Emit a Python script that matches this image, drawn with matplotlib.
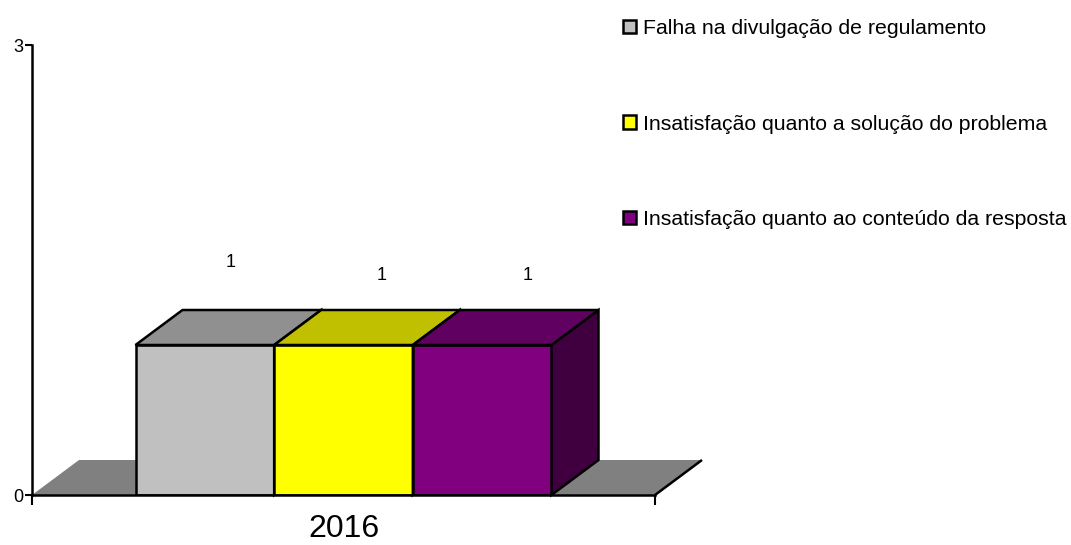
import matplotlib
matplotlib.use("Agg")
import matplotlib.pyplot as plt
from matplotlib.patches import Polygon, Patch

categories = ["2016"]
series_names = ["Falha na divulgação de regulamento",
                "Insatisfação quanto a solução do problema",
                "Insatisfação quanto ao conteúdo da resposta"]
values = [1, 1, 1]
front_colors = ["#C0C0C0", "#FFFF00", "#800080"]
top_colors = ["#909090", "#C0C000", "#600060"]
side_colors = ["#909090", "#C0C000", "#400040"]
label_pos = [(-0.181, 1.553), (0.061, 1.46), (0.295, 1.46)]

plt.rcParams['font.family'] = ['Liberation Sans', 'DejaVu Sans']

W, H = 1071, 545
fig = plt.figure(figsize=(W / 100, H / 100), dpi=100)
ax = fig.add_axes([32 / W, (H - 495) / H, 623 / W, 450 / H])
ax.set_xlim(-0.5, 0.5)
ax.set_ylim(0, 3)

dx = 47 / 623
dy = 35 / 150
group_w = 416 / 623
bw = group_w / len(values)

# floor
floor = Polygon([(-0.5, 0), (0.5, 0), (0.5 + dx, dy), (-0.5 + dx, dy)],
                closed=True, facecolor="#808080", edgecolor="none",
                clip_on=False, zorder=1)
ax.add_patch(floor)
ax.plot([0.5, 0.5 + dx], [0, dy], color="black", lw=1.8, clip_on=False,
        zorder=1.5, solid_capstyle="butt")

x0 = -group_w / 2
for i, v in enumerate(values):
    left = x0 + i * bw
    right = left + bw
    ax.bar(left, v, width=bw, align="edge", color=front_colors[i],
           edgecolor="black", linewidth=1.8, zorder=2 + i)
    top = Polygon([(left, v), (right, v), (right + dx, v + dy), (left + dx, v + dy)],
                  closed=True, facecolor=top_colors[i], edgecolor="black",
                  linewidth=1.8, zorder=2 + i, clip_on=False)
    side = Polygon([(right, 0), (right + dx, dy), (right + dx, v + dy), (right, v)],
                   closed=True, facecolor=side_colors[i], edgecolor="black",
                   linewidth=1.8, zorder=2 + i, clip_on=False)
    ax.add_patch(side)
    ax.add_patch(top)
    ax.text(label_pos[i][0], label_pos[i][1], str(v), ha="center", va="center",
            fontsize=13, zorder=10)

for s in ["top", "right"]:
    ax.spines[s].set_visible(False)
for s in ["left", "bottom"]:
    ax.spines[s].set_linewidth(1.8)
    ax.spines[s].set_zorder(20)

ax.set_yticks([0, 3])
ax.set_yticklabels(["0", "3"], fontsize=13)
ax.tick_params(axis="y", direction="out", length=5, width=1.5, pad=1)
ax.set_xticks([-0.5, 0.5])
ax.set_xticklabels(["", ""])
ax.tick_params(axis="x", which="major", direction="out", length=7, width=1.5)
ax.set_xticks([0], minor=True)
ax.set_xticklabels(categories, minor=True, fontsize=23)
ax.tick_params(axis="x", which="minor", length=0, pad=14)

handles = [Patch(facecolor=c, edgecolor="black", linewidth=1.8) for c in front_colors]
leg = fig.legend(handles, series_names, loc="upper left",
                 bbox_to_anchor=(623 / W, 1 - 19 / H), frameon=False,
                 fontsize=15.3, handlelength=0.6, handleheight=0.6,
                 handletextpad=0.35, labelspacing=3.6, borderpad=0,
                 borderaxespad=0)

fig.savefig("out.png", dpi=100)
